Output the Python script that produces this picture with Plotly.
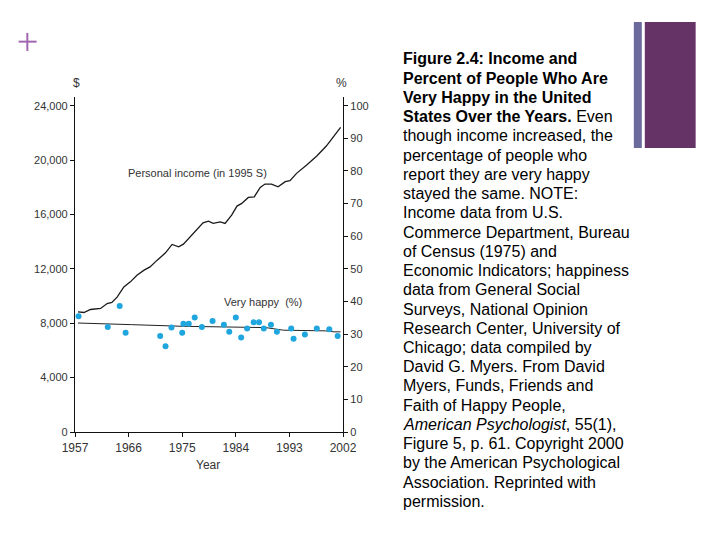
import plotly.graph_objects as go

# ---------------- data ----------------
income_years = [1957.5, 1958.5, 1959.6, 1961.3, 1962.4, 1963.2, 1964.1, 1965.2, 1966.3, 1967.4,
                1968.6, 1969.6, 1970.8, 1972.2, 1973.3, 1974.4, 1975.2, 1976.3, 1977.5, 1978.5,
                1979.4, 1980.2, 1981.4, 1982.2, 1983.3, 1984.2, 1985.0, 1986.1, 1987.1, 1988.1,
                1988.9, 1990.0, 1991.1, 1992.3, 1993.1, 1994.2, 1995.9, 1997.6, 1999.2, 2000.6,
                2001.6]
income_values = [8830, 8790, 9010, 9085, 9450, 9530, 9940, 10675, 11045, 11535,
                 11904, 12147, 12640, 13178, 13796, 13620, 13819, 14357, 14901, 15387,
                 15512, 15343, 15460, 15343, 15954, 16616, 16815, 17256, 17300, 17992,
                 18236, 18236, 18040, 18408, 18482, 19024, 19635, 20297, 21034, 21844,
                 22410]

trend_years = [1957.5, 1962.5, 1966.5, 1975.0, 1984.0, 1989.0, 1992.0, 1999.0, 2000.5, 2001.6]
trend_values = [33.4, 33.2, 32.9, 32.4, 32.0, 32.0, 31.2, 31.0, 30.7, 30.7]

happy_years = [1957.6, 1962.5, 1964.5, 1965.5, 1971.3, 1972.2, 1973.2, 1975.0, 1975.2, 1976.1,
               1977.1, 1978.3, 1980.1, 1982.0, 1982.9, 1984.0, 1984.9, 1985.9, 1987.0, 1987.9,
               1988.7, 1989.9, 1990.9, 1993.3, 1993.7, 1995.6, 1997.6, 1999.7, 2001.1]
happy_values = [35.5, 32.2, 38.6, 30.4, 29.4, 26.3, 32.0, 30.4, 33.2, 33.2,
                35.1, 32.2, 34.0, 32.9, 30.7, 35.1, 29.0, 31.7, 33.6, 33.6,
                31.7, 32.9, 30.7, 31.7, 28.6, 29.9, 31.7, 31.5, 29.4]

year_ticks = [1957, 1966, 1975, 1984, 1993, 2002]
income_ticks = [0, 4000, 8000, 12000, 16000, 20000, 24000]
income_tick_labels = ["0", "4,000", "8,000", "12,000", "16,000", "20,000", "24,000"]
pct_ticks = [0, 10, 20, 30, 40, 50, 60, 70, 80, 90, 100]

caption_lines = [
    "<b>Figure 2.4: Income and</b>",
    "<b>Percent of People Who Are</b>",
    "<b>Very Happy in the United</b>",
    "<b>States Over the Years.</b> Even",
    "though income increased, the",
    "percentage of people who",
    "report they are very happy",
    "stayed the same. NOTE:",
    "Income data from U.S.",
    "Commerce Department, Bureau",
    "of Census (1975) and",
    "Economic Indicators; happiness",
    "data from General Social",
    "Surveys, National Opinion",
    "Research Center, University of",
    "Chicago; data compiled by",
    "David G. Myers. From David",
    "Myers, Funds, Friends and",
    "Faith of Happy People,",
    "<i>American Psychologist</i>, 55(1),",
    "Figure 5, p. 61. Copyright 2000",
    "by the American Psychological",
    "Association. Reprinted with",
    "permission.",
]

# ---------------- layout geometry ----------------
W, H = 720, 540
L, R = 74.5, 343.3       # plot left/right pixel
T, B = 97.0, 431.7       # plot top/bottom pixel
PX_PER_INC = 326.0 / 24000
PX_PER_PCT = 326.0 / 100


def px(xp):
    return (xp - L) / (R - L)


def py(yp):
    return (B - yp) / (B - T)


FONT = "Liberation Sans, Arial, sans-serif"
TICKC = "#333333"

fig = go.Figure()
fig.add_trace(go.Scatter(x=income_years, y=income_values, mode="lines",
                         line=dict(color="#1a1a1a", width=1.3), showlegend=False,
                         hoverinfo="skip"))
fig.add_trace(go.Scatter(x=trend_years, y=trend_values, mode="lines", yaxis="y2",
                         line=dict(color="#222222", width=1.0), showlegend=False,
                         hoverinfo="skip"))
fig.add_trace(go.Scatter(x=happy_years, y=happy_values, mode="markers", yaxis="y2",
                         marker=dict(color="#1fa6de", size=6), showlegend=False))


def note(xp, yp, text, size=11, xanchor="center", color=TICKC):
    return dict(x=px(xp), y=py(yp), xref="paper", yref="paper", text=text,
                xanchor=xanchor, yanchor="middle", showarrow=False,
                font=dict(family=FONT, size=size, color=color))


annotations = [
    note(76, 83, "$", size=12),
    note(342, 83, "%", size=12),
    note(208, 465, "Year", size=12),
    note(126, 173, "Personal income (in 1995 S)", xanchor="left"),
    note(222, 302, "Very happy  (%)", xanchor="left"),
]

y0 = 59.0
step = (501.0 - 59.0) / (len(caption_lines) - 1)
for i, line in enumerate(caption_lines):
    annotations.append(note(401, y0 + i * step, line, size=16, xanchor="left", color="#000000"))

shapes = [
    dict(type="rect", xref="paper", yref="paper", x0=px(635), x1=px(643), y0=py(148), y1=py(22),
         fillcolor="#6a6a9c", line=dict(width=0)),
    dict(type="rect", xref="paper", yref="paper", x0=px(646), x1=px(697), y0=py(148), y1=py(22),
         fillcolor="#663366", line=dict(width=0)),
    dict(type="line", xref="paper", yref="paper", x0=px(18), x1=px(36), y0=py(41.7), y1=py(41.7),
         line=dict(color="#a066b0", width=2)),
    dict(type="line", xref="paper", yref="paper", x0=px(26.7), x1=px(26.7), y0=py(33), y1=py(51),
         line=dict(color="#a066b0", width=2)),
]

fig.update_layout(
    width=W, height=H,
    margin=dict(l=L, r=W - R, t=T, b=H - B, pad=0),
    paper_bgcolor="white", plot_bgcolor="white",
    font=dict(family=FONT, size=11, color=TICKC),
    xaxis=dict(range=[1957, 2002], tickvals=year_ticks, showgrid=False, zeroline=False,
               showline=True, linecolor="#111111", linewidth=1.2, ticks="outside",
               ticklen=4, tickcolor="#111111", tickfont=dict(size=12, color=TICKC)),
    yaxis=dict(range=[0, (B - T) / PX_PER_INC], tickvals=income_ticks,
               ticktext=income_tick_labels, showgrid=False, zeroline=False,
               showline=True, linecolor="#111111", linewidth=1.2, ticks="outside",
               ticklen=4, tickcolor="#111111", tickfont=dict(size=11, color=TICKC)),
    yaxis2=dict(range=[0, (B - T) / PX_PER_PCT], tickvals=pct_ticks, overlaying="y",
                side="right", showgrid=False, zeroline=False, showline=True,
                linecolor="#111111", linewidth=1.2, ticks="outside", ticklen=4,
                tickcolor="#111111", tickfont=dict(size=11, color=TICKC)),
    annotations=annotations,
    shapes=shapes,
)

fig.write_html("out.html", config={"displayModeBar": False},
               post_script="document.body.style.margin='0';")
